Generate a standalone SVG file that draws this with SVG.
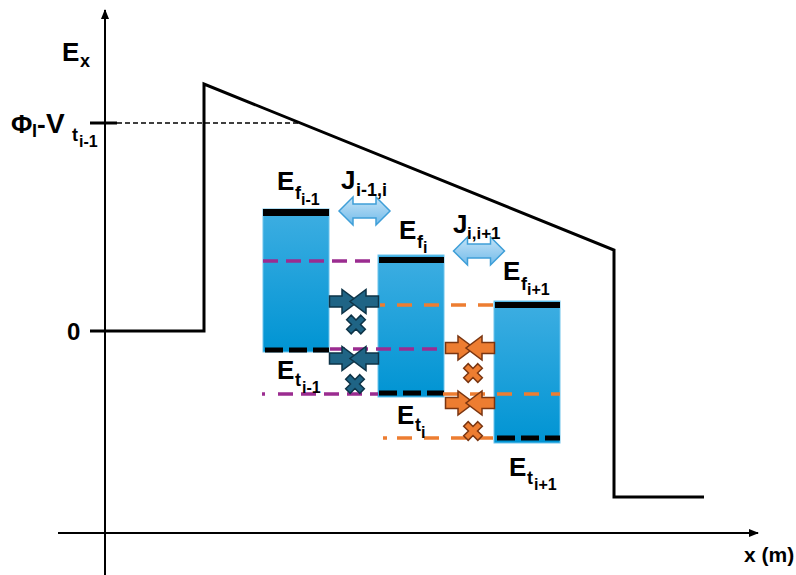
<svg xmlns="http://www.w3.org/2000/svg" width="796" height="575" viewBox="0 0 796 575">
<style>
  text { font-family: "Liberation Sans", Arial, sans-serif; font-weight: bold; fill: #000; }
  .axis { stroke: #000; stroke-width: 2; fill: none; }
  .profile { stroke: #000; stroke-width: 3; fill: none; stroke-linejoin: miter; }
  .box { fill: url(#boxGrad); stroke: #6cc3ec; stroke-width: 1; }
  .bar { fill: #000; }
  .bdash { stroke: #000; stroke-width: 5; stroke-dasharray: 18 6; }
  .mag { stroke: #9b2c90; stroke-width: 3.5; stroke-dasharray: 15 8; fill: none; }
  .org { stroke: #ed7d31; stroke-width: 3.5; stroke-dasharray: 15 12; fill: none; }
  .teal { fill: #1f6485; stroke: #0d3347; stroke-width: 1.5; stroke-linejoin: miter; }
  .orng { fill: #ed7d31; stroke: #7a3510; stroke-width: 1.5; stroke-linejoin: miter; }
  .jarrow { fill: url(#jGrad); stroke: #3f9fd8; stroke-width: 1.5; }
  .m { font-size: 26px; }
  .s { font-size: 18px; }
  .ss { font-size: 16px; }
</style>
<defs>
  <linearGradient id="boxGrad" x1="0" y1="0" x2="0" y2="1">
    <stop offset="0" stop-color="#3eaee2"/>
    <stop offset="1" stop-color="#0094d3"/>
  </linearGradient>
  <linearGradient id="jGrad" x1="0" y1="0" x2="0" y2="1">
    <stop offset="0" stop-color="#c4e3f7"/>
    <stop offset="1" stop-color="#72bbea"/>
  </linearGradient>
  <marker id="ah" viewBox="0 0 10 10" refX="9" refY="5" markerWidth="5" markerHeight="5" orient="auto" markerUnits="strokeWidth">
    <path d="M0,1 L10,5 L0,9 Z" fill="#000"/>
  </marker>
  <g id="bfly">
    <polygon points="-24.5,-5.5 -12,-5.5 -12,-12 4,0 -12,12 -12,5.5 -24.5,5.5"/>
    <polygon points="24.5,-5.5 12,-5.5 12,-12 -4,0 12,12 12,5.5 24.5,5.5"/>
  </g>
  <polygon id="cross" points="-3.2,-10 3.2,-10 3.2,-3.2 10,-3.2 10,3.2 3.2,3.2 3.2,10 -3.2,10 -3.2,3.2 -10,3.2 -10,-3.2 -3.2,-3.2" transform="rotate(45)"/>
  <polygon id="dbl" points="-25.5,0 -11.5,-14 -11.5,-7 11.5,-7 11.5,-14 25.5,0 11.5,14 11.5,7 -11.5,7 -11.5,14"/>
</defs>

<g id="connectors">
  <line class="axis" x1="105" y1="575" x2="105" y2="10" marker-end="url(#ah)"/>
  <line class="axis" x1="58" y1="533" x2="758" y2="533" marker-end="url(#ah)"/>
  <polyline class="profile" points="90,331 204,331 204,84 614,250 614,497 704,497"/>
  <line x1="90" y1="123" x2="117" y2="123" stroke="#000" stroke-width="3"/>
  <line x1="117" y1="123" x2="298" y2="123" stroke="#000" stroke-width="1.5" stroke-dasharray="5 3"/>
</g>

<g id="box-i-1">
  <rect class="box" x="263" y="209" width="66" height="143"/>
  <rect class="bar" x="263" y="209" width="66" height="7"/>
  <line class="bdash" x1="265" y1="350" x2="329" y2="350"/>
</g>
<g id="box-i">
  <rect class="box" x="378" y="255" width="66" height="142"/>
  <rect class="bar" x="379" y="257" width="65" height="6"/>
  <line class="bdash" x1="379" y1="393" x2="444" y2="393"/>
</g>
<g id="box-i+1">
  <rect class="box" x="494" y="301" width="66" height="142"/>
  <rect class="bar" x="495" y="302" width="65" height="6"/>
  <line class="bdash" x1="497" y1="438" x2="560" y2="438"/>
</g>

<g id="levels">
  <line class="mag" x1="263" y1="261" x2="378" y2="261"/>
  <line class="mag" x1="330" y1="349" x2="446" y2="349"/>
  <line class="mag" x1="262" y1="394" x2="265" y2="394" stroke-dasharray="none"/>
  <line class="mag" x1="278" y1="394" x2="378" y2="394"/>
  <line class="org" x1="380" y1="305" x2="385" y2="305" stroke-dasharray="none"/>
  <line class="org" x1="397" y1="305" x2="495" y2="305"/>
  <line class="org" x1="443" y1="394" x2="560" y2="394"/>
  <line class="org" x1="383" y1="438" x2="387" y2="438" stroke-dasharray="none"/>
  <line class="org" x1="397" y1="438" x2="498" y2="438"/>
</g>

<g id="j-arrows">
  <use href="#dbl" class="jarrow" x="364.5" y="211"/>
  <use href="#dbl" class="jarrow" x="479" y="251"/>
</g>

<g id="traps">
  <use href="#bfly" class="teal" x="354" y="301.5"/>
  <use href="#cross" class="teal" x="356" y="324.5"/>
  <use href="#bfly" class="teal" x="354" y="358.5"/>
  <use href="#cross" class="teal" x="355" y="384"/>
  <use href="#bfly" class="orng" x="470" y="348"/>
  <use href="#cross" class="orng" x="473" y="373"/>
  <use href="#bfly" class="orng" x="470" y="403"/>
  <use href="#cross" class="orng" x="473" y="431"/>
</g>

<g id="labels">
  <text><tspan class="m" x="62" y="61">E</tspan><tspan class="s" x="80" y="67">x</tspan></text>
  <text><tspan class="m" x="11" y="133">Φ</tspan><tspan class="s" x="32" y="137">I</tspan><tspan class="m" x="37" y="133">-</tspan><tspan x="46" y="133" font-size="28">V</tspan><tspan class="s" x="72" y="141">t</tspan><tspan class="ss" x="79" y="147">i-1</tspan></text>
  <text x="67" y="340" font-size="24">0</text>
  <text><tspan class="m" x="277" y="190">E</tspan><tspan class="s" x="295" y="199">f</tspan><tspan class="ss" x="301" y="205">i-1</tspan></text>
  <text><tspan class="m" x="341" y="189">J</tspan><tspan class="s" x="356" y="196">i-1,i</tspan></text>
  <text><tspan class="m" x="399" y="239">E</tspan><tspan class="s" x="417" y="248">f</tspan><tspan class="ss" x="423" y="253">i</tspan></text>
  <text><tspan class="m" x="453" y="233">J</tspan><tspan x="467" y="239" font-size="17">i,i+1</tspan></text>
  <text><tspan class="m" x="503" y="280">E</tspan><tspan class="s" x="521" y="290">f</tspan><tspan class="ss" x="527" y="295">i+1</tspan></text>
  <text><tspan class="m" x="277" y="379">E</tspan><tspan class="s" x="295" y="386">t</tspan><tspan class="ss" x="302" y="393">i-1</tspan></text>
  <text><tspan class="m" x="397" y="424">E</tspan><tspan class="s" x="415" y="431">t</tspan><tspan class="ss" x="421" y="438">i</tspan></text>
  <text><tspan class="m" x="509" y="476">E</tspan><tspan class="s" x="527" y="484">t</tspan><tspan class="ss" x="534" y="490">i+1</tspan></text>
  <text x="744" y="562" font-size="21">x (m)</text>
</g>
</svg>
